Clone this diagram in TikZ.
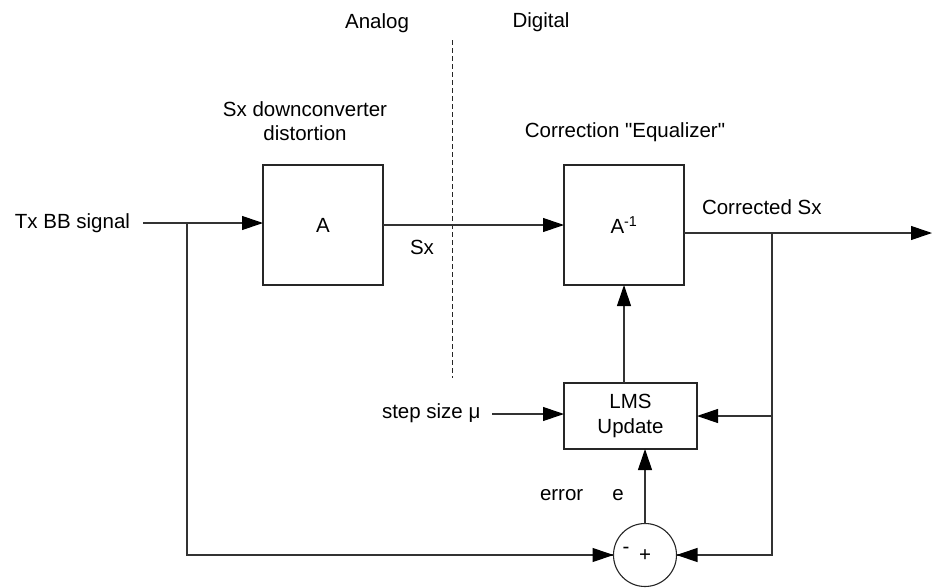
\documentclass[tikz,border=0pt]{standalone}
\usepackage{fontspec}
\setmainfont{Liberation Sans}[Ligatures=TeXOff]
\usetikzlibrary{arrows.meta}
\begin{document}
\begin{tikzpicture}[x=1pt,y=-1pt,
  every node/.style={font=\fontsize{20.5}{24.6}\selectfont, inner sep=0pt, outer sep=0pt},
  blockbox/.style={draw=black!85, line width=1.1pt, minimum width=120pt, minimum height=120pt},
  wire/.style={draw=black!80, line width=1.1pt},
  flow/.style={wire, -{Triangle[length=21pt,width=14pt,color=black,fill=black]}},
  lbl/.style={align=center}]
\useasboundingbox (0,0) rectangle (932,587);

% domain labels and boundary
\node[lbl] (analog) at (377,23) {Analog};
\node[lbl] (digital) at (541,22) {Digital};
\coordinate (divtop) at (452,40);
\coordinate (divbot) at (452,378);
\draw[draw=black!85, line width=0.9pt, dash pattern=on 5pt off 3pt] (divtop) -- (divbot);

% blocks
\node[blockbox] (A) at (323,225) {A};
\node[blockbox] (Ainv) at (624,225) {A\textsuperscript{-1}};
\node[draw=black!85, line width=1.1pt, minimum width=133pt, minimum height=66pt, align=center] (lms) at (630.5,416) {LMS\\Update};
\node[draw=black!85, line width=1.1pt, circle, minimum size=63pt] (sum) at (645,555) {};
\node (minus) at (626,550) {-};
\node (plus) at (645,556) {+};

% block captions
\node[lbl] (cap1) at (305,121) {Sx downconverter\\distortion};
\node[lbl] (cap2) at (625,132) {Correction "Equalizer"};

% signal labels
\node[anchor=east] (tx) at (130,223) {Tx BB signal};
\node (sx) at (422,247) {Sx};
\node[anchor=west] (corr) at (702,207) {Corrected Sx};
\node[anchor=west] (mu) at (382,413) {step size μ};
\node[anchor=west] (err) at (540,495) {error};
\node (e) at (618,495) {e};

% connectors
\coordinate (txin) at (143,223);
\coordinate (br1) at (187,223);
\coordinate (out) at (932,233);
\coordinate (br2) at (772,233);
\coordinate (muin) at (492,414);

\draw[flow] (txin) -- (txin -| A.west);
\draw[wire] (br1) |- (sum.west);
\draw[flow] (sum.west -| br1) -- (sum.west);
\draw[flow] (A.east) -- (Ainv.west);
\draw[flow] (Ainv.east |- out) -- (out);
\draw[wire] (br2) |- (sum.east);
\draw[flow] (sum.east -| br2) -- (sum.east);
\draw[flow] (br2 |- lms.east) -- (lms.east);
\draw[flow] (Ainv.south |- lms.north) -- (Ainv.south);
\draw[flow] (sum.north) -- (sum.north |- lms.south);
\draw[flow] (muin) -- (muin -| lms.west);
\end{tikzpicture}
\end{document}
